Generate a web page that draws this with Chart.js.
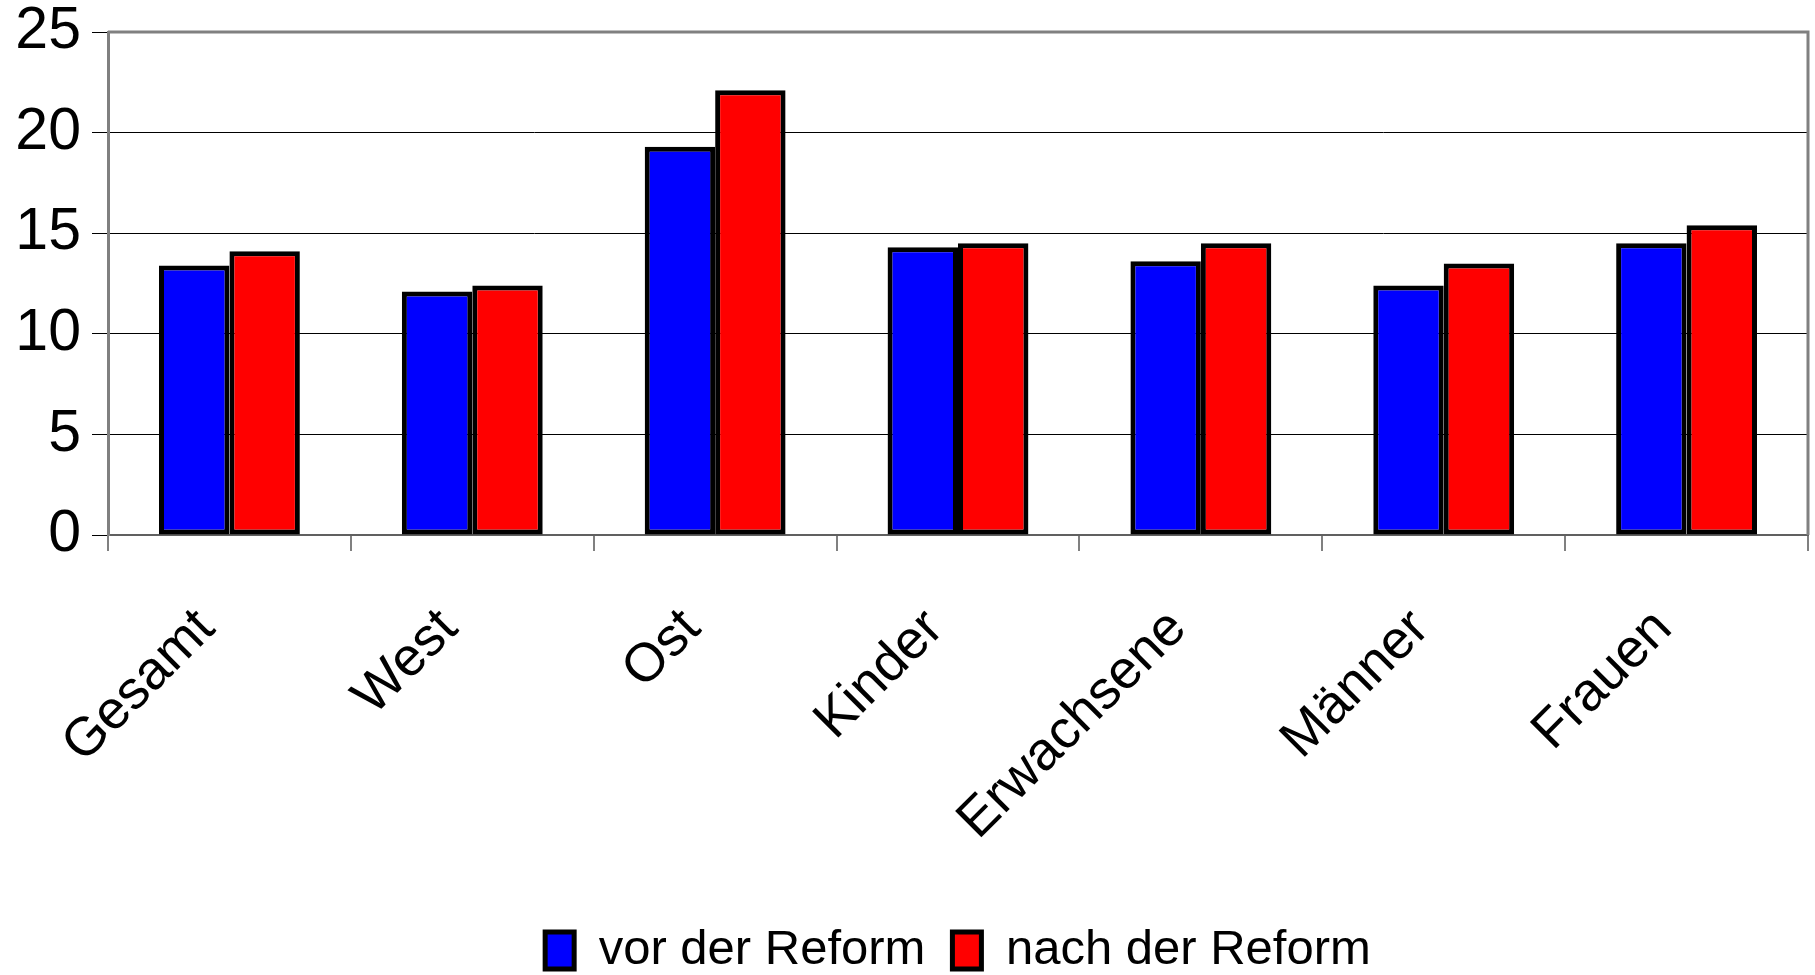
<!DOCTYPE html>
<html>
<head>
<meta charset="utf-8">
<script src="https://cdn.jsdelivr.net/npm/chart.js@4"></script>
<style>
    html, body { margin: 0; padding: 0; background: #fff; }
</style>
</head>
<body>
<canvas id="chart" width="1815" height="975"></canvas>
<script>
// Data
const categories = ['Gesamt', 'West', 'Ost', 'Kinder', 'Erwachsene', 'Männer', 'Frauen'];
const vorDerReform = [13.4, 12.1, 19.3, 14.3, 13.6, 12.4, 14.5];
const nachDerReform = [14.1, 12.4, 22.1, 14.5, 14.5, 13.5, 15.4];
const seriesNames = ['vor der Reform', 'nach der Reform'];
const yTicks = [0, 5, 10, 15, 20, 25];

const fontFamily = '"Liberation Sans", Arial, sans-serif';

// Gray frame on top and right of the plot area
const framePlugin = {
    id: 'frame',
    afterDraw(chart) {
        const { ctx, chartArea } = chart;
        ctx.save();
        ctx.strokeStyle = '#808080';
        ctx.lineWidth = 3;
        ctx.beginPath();
        ctx.moveTo(chartArea.left, chartArea.top);
        ctx.lineTo(chartArea.right, chartArea.top);
        ctx.lineTo(chartArea.right, chartArea.bottom);
        ctx.stroke();
        ctx.restore();
    }
};

const ctx = document.getElementById('chart').getContext('2d');

new Chart(ctx, {
    type: 'bar',
    data: {
        labels: categories,
        datasets: [{
            label: seriesNames[0],
            data: vorDerReform,
            backgroundColor: '#0000ff',
            borderColor: '#000',
            borderWidth: 5,
            borderSkipped: false,
            categoryPercentage: 0.58,
            barPercentage: 1.0
        }, {
            label: seriesNames[1],
            data: nachDerReform,
            backgroundColor: '#ff0000',
            borderColor: '#000',
            borderWidth: 5,
            borderSkipped: false,
            categoryPercentage: 0.58,
            barPercentage: 1.0
        }]
    },
    options: {
        responsive: false,
        animation: false,
        devicePixelRatio: 1,
        layout: {
            padding: { top: 32, right: 7, left: 0, bottom: -10 }
        },
        scales: {
            x: {
                grid: {
                    offset: true,
                    drawOnChartArea: false,
                    tickLength: 16,
                    color: '#808080',
                    lineWidth: 2
                },
                border: { color: '#606060', width: 2 },
                ticks: {
                    color: '#000',
                    font: { family: fontFamily, size: 54 },
                    minRotation: 45,
                    maxRotation: 45,
                    padding: 46,
                    labelOffset: -23
                },
                afterFit: function (scale) {
                    scale.height = 364;
                    scale.paddingLeft = 0;
                    scale.paddingRight = 0;
                }
            },
            y: {
                min: 0,
                max: 25,
                afterBuildTicks: function (scale) {
                    scale.ticks = yTicks.map(v => ({ value: v }));
                },
                ticks: {
                    color: '#000',
                    font: { family: fontFamily, size: 59 },
                    padding: 11
                },
                grid: {
                    color: '#000',
                    lineWidth: 1,
                    tickLength: 16
                },
                border: { color: '#808080', width: 3 },
                afterFit: function (scale) {
                    scale.width = 108;
                    scale.paddingTop = 0;
                    scale.paddingBottom = 0;
                }
            }
        },
        plugins: {
            legend: {
                position: 'bottom',
                fullSize: false,
                labels: {
                    color: '#000',
                    font: { family: fontFamily, size: 49 },
                    boxWidth: 29,
                    boxHeight: 37,
                    padding: 27
                }
            },
            tooltip: { enabled: false }
        }
    },
    plugins: [framePlugin]
});
</script>
</body>
</html>
